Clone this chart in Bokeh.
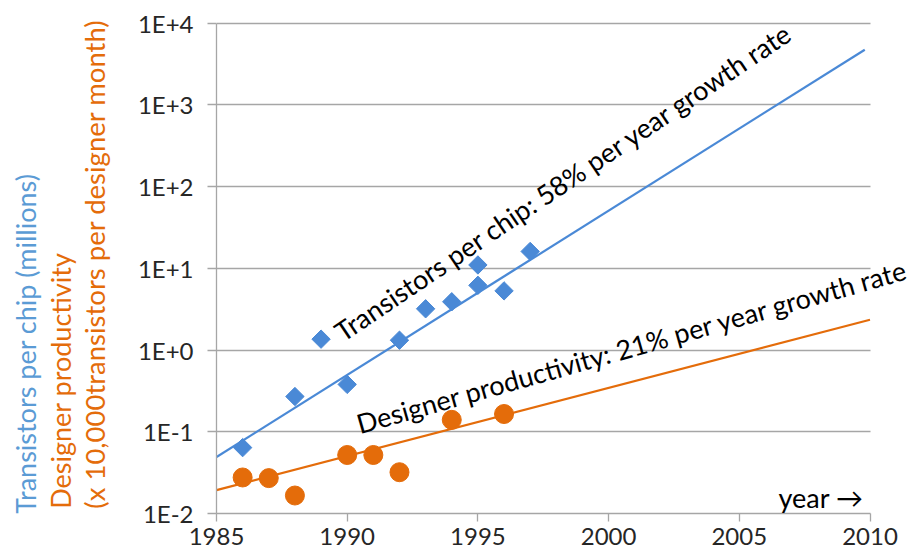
import math
from bokeh.plotting import figure
from bokeh.layouts import row
from bokeh.models import Range1d, FixedTicker, CustomJSTickFormatter, Label, Grid
from bokeh.embed import file_html
from bokeh.resources import INLINE

# ---- data ----
trans_years = [1986, 1988, 1989, 1990, 1992, 1993, 1994, 1995, 1995, 1996, 1997]
trans_values = [0.064, 0.27, 1.36, 0.38, 1.32, 3.2, 3.9, 11.0, 6.2, 5.3, 16.1]
prod_years = [1986, 1987, 1988, 1990, 1991, 1992, 1994, 1996]
prod_values = [0.0276, 0.0271, 0.0166, 0.052, 0.052, 0.032, 0.14, 0.165]
trans_trend_years = [1985, 2009.8]
trans_trend_values = [0.049, 4740]
prod_trend_years = [1985, 2010]
prod_trend_values = [0.0193, 2.35]
x_ticks = [1985, 1990, 1995, 2000, 2005, 2010]
y_ticks = [0.01, 0.1, 1, 10, 100, 1000, 10000]
x_bounds = (1985, 2010)
y_bounds = (0.01, 10000)

BLUE = "#4A89D6"
BLUE_TXT = "#5B9BD5"
ORANGE = "#E46C0A"
GRID = "#A6A6A6"
FONT = "Lato"

TOTAL_W, H = 913, 556
TITLE_W = 120

# ---------- left strip holding the coloured, rotated y-axis titles ----------
t = figure(width=TITLE_W, height=H, x_range=Range1d(0, TITLE_W), y_range=Range1d(0, H),
           x_axis_location=None, y_axis_location=None,
           output_backend="svg", toolbar_location=None,
           min_border_left=0, min_border_right=0, min_border_top=0, min_border_bottom=0)
t.grid.visible = False
t.outline_line_color = None
t.background_fill_color = "white"
t.border_fill_color = "white"
# (centre x, centre y measured from the bottom, font size) of each title line
for txt, cx, cy, fs, col in [("Transistors per chip (millions)", 25, 184, "27px", BLUE_TXT),
                             ("Designer productivity", 59.5, 144, "27px", ORANGE),
                             ("(x 10,000transistors per designer month)", 94, 270.5, "27.5px", ORANGE)]:
    t.add_layout(Label(x=cx, y=cy, text=txt, angle=math.pi / 2, text_font=FONT,
                       text_font_size=fs, text_color=col,
                       text_align="center", text_baseline="middle"))

# ---------- main chart ----------
main_w = TOTAL_W - TITLE_W
left = 216 - TITLE_W
px_per_year = 653.5 / 25.0
x_end = 1985 + (main_w - left) / px_per_year
y_end = 10 ** (4 + 22.7 / 81.7)

p = figure(width=main_w, height=H,
           x_range=Range1d(1985, x_end), y_range=Range1d(0.01, y_end),
           y_axis_type="log", output_backend="svg", toolbar_location=None,
           min_border_left=left, min_border_right=0,
           min_border_top=0, min_border_bottom=43)
p.outline_line_color = None
p.background_fill_color = "white"
p.border_fill_color = "white"

# x axis
p.xaxis.ticker = FixedTicker(ticks=x_ticks)
p.xaxis.bounds = x_bounds
p.xaxis.axis_line_color = GRID
p.xaxis.axis_line_width = 1.3
p.xaxis.major_tick_line_color = GRID
p.xaxis.major_tick_line_width = 1.3
p.xaxis.major_tick_out = 8
p.xaxis.major_tick_in = 0
p.xaxis.minor_tick_line_color = None
p.xaxis.major_label_text_font = FONT
p.xaxis.major_label_text_font_size = "24px"
p.xaxis.major_label_text_color = "#262626"
p.xaxis.major_label_standoff = 6
p.xgrid.grid_line_color = None

# y axis
p.yaxis.ticker = FixedTicker(ticks=y_ticks, minor_ticks=[])
p.yaxis.bounds = y_bounds
p.yaxis.formatter = CustomJSTickFormatter(code="""
const e = Math.round(Math.log10(tick));
return "1E" + (e >= 0 ? "+" : "") + e;
""")
p.yaxis.axis_line_color = GRID
p.yaxis.axis_line_width = 1.3
p.yaxis.major_tick_line_color = GRID
p.yaxis.major_tick_line_width = 1.3
p.yaxis.major_tick_out = 9
p.yaxis.major_tick_in = 0
p.yaxis.minor_tick_line_color = None
p.yaxis.major_label_text_font = FONT
p.yaxis.major_label_text_font_size = "24px"
p.yaxis.major_label_text_color = "#262626"
p.yaxis.major_label_standoff = 14

# horizontal grid lines only between 1985 and 2010
if "cross_bounds" in Grid.properties():
    p.ygrid.cross_bounds = x_bounds
    p.ygrid.grid_line_color = GRID
    p.ygrid.grid_line_width = 1.3
else:
    p.ygrid.grid_line_color = None
    p.segment(x0=[x_bounds[0]] * len(y_ticks), x1=[x_bounds[1]] * len(y_ticks),
              y0=y_ticks, y1=y_ticks, line_color=GRID, line_width=1.3)

# trend lines
p.line(trans_trend_years, trans_trend_values, line_color=BLUE, line_width=2.2)
p.line(prod_trend_years, prod_trend_values, line_color=ORANGE, line_width=2.2)

# markers
p.scatter(trans_years, trans_values, marker="square", angle=math.pi / 4,
          size=13, fill_color=BLUE, line_color=BLUE)
p.scatter(prod_years, prod_values, marker="circle", size=19,
          fill_color=ORANGE, line_color=ORANGE)

# annotations inside the plot
p.add_layout(Label(x=1989.62, y=1.57, text="Transistors per chip: 58% per year growth rate",
                   angle=math.radians(34), text_font=FONT, text_font_size="27px",
                   text_color="black", text_align="left", text_baseline="alphabetic"))
p.add_layout(Label(x=1990.38, y=0.124,
                   text="Designer productivity: 21% per year growth rate",
                   angle=math.radians(15.8), text_font=FONT, text_font_size="27px",
                   text_color="black", text_align="left", text_baseline="alphabetic"))
p.add_layout(Label(x=2006.5, y=0.0156, text="year \u2192", text_font=FONT,
                   text_font_size="27px", text_color="black",
                   text_align="left", text_baseline="alphabetic"))

layout = row(t, p, spacing=0)
open("out.html", "w").write(file_html(layout, INLINE))
